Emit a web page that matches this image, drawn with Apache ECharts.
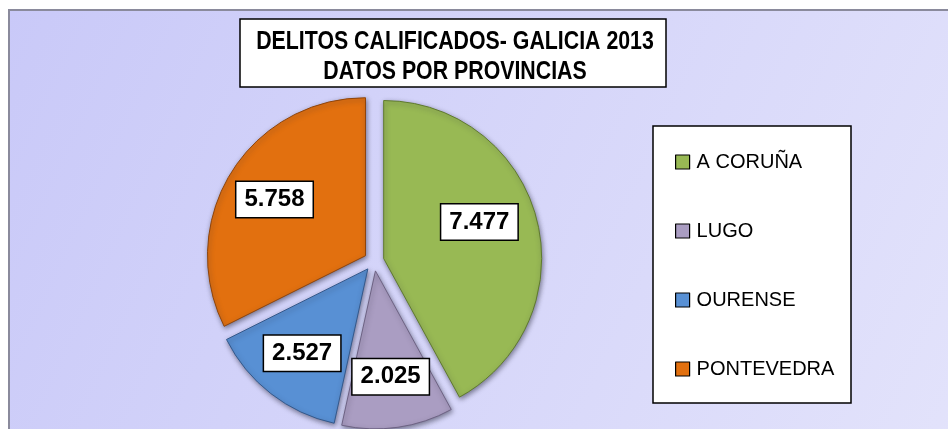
<!DOCTYPE html>
<html>
<head>
<meta charset="utf-8">
<style>
  html, body { margin: 0; padding: 0; background: #fff; }
  #chart { width: 948px; height: 429px; }
</style>
<script src="https://cdn.jsdelivr.net/npm/echarts@6/dist/echarts.min.js"></script>
</head>
<body>
<div id="chart"></div>
<script>
// datos
const provincias = ['A CORUÑA', 'LUGO', 'OURENSE', 'PONTEVEDRA']
const delitos = [7477, 2025, 2527, 5758]
const colores = ['#98B954', '#AA9DC2', '#5890D4', '#E2700F']
const bordes = ['#5F7A2E', '#6E6384', '#34598C', '#8F440A']
const tituloLineas = ['DELITOS CALIFICADOS- GALICIA 2013', 'DATOS POR PROVINCIAS']

// 7477 -> 7.477
function miles(v) {
  return String(v).replace(/\B(?=(\d{3})+(?!\d))/g, '.')
}

const chart = echarts.init(document.getElementById('chart'), null, { renderer: 'canvas' })

const centro = [374, 261]
const radio = 158
const separacion = 10

const datos = provincias.map((name, i) => ({
  name,
  value: delitos[i],
  selected: true,
  itemStyle: { color: colores[i], borderColor: bordes[i] }
}))

chart.setOption({
  animation: false,
  backgroundColor: '#fff',
  graphic: [
    {
      type: 'rect',
      z: -10,
      shape: { x: 9, y: 10, width: 960, height: 440 },
      style: {
        fill: new echarts.graphic.LinearGradient(0, 0, 1, 1, [
          { offset: 0, color: '#C9C9F8' },
          { offset: 1, color: '#E3E3FB' }
        ]),
        stroke: '#8A8A9C',
        lineWidth: 2
      }
    },
    // caja del titulo (no hay Arial Narrow, se comprime el texto)
    {
      type: 'group',
      z: 5,
      children: [
        {
          type: 'rect',
          shape: { x: 240, y: 19, width: 426, height: 68 },
          style: { fill: '#fff', stroke: '#000', lineWidth: 1.5 }
        },
        {
          type: 'text',
          x: 455,
          y: 27,
          scaleX: 0.82,
          style: {
            text: tituloLineas.join('\n'),
            align: 'center',
            verticalAlign: 'top',
            fontFamily: '"Liberation Sans", Arial',
            fontWeight: 'bold',
            fontSize: 26,
            lineHeight: 30,
            fill: '#000'
          }
        }
      ]
    },
    {
      type: 'rect',
      z: 1,
      shape: { x: 653, y: 126, width: 198, height: 277 },
      style: { fill: '#fff', stroke: '#000', lineWidth: 1.5 }
    }
  ],
  legend: {
    orient: 'vertical',
    left: 675,
    top: 152,
    padding: 0,
    itemWidth: 14,
    itemHeight: 14,
    itemGap: 49,
    icon: 'rect',
    selectedMode: false,
    data: provincias,
    itemStyle: { borderColor: '#000', borderWidth: 1.2, shadowBlur: 0, shadowOffsetX: 0, shadowOffsetY: 0 },
    textStyle: {
      fontFamily: '"Liberation Sans", Arial',
      fontSize: 20,
      lineHeight: 20,
      color: '#000',
      padding: [0, 0, 0, 2]
    }
  },
  series: [
    {
      name: 'Delitos',
      type: 'pie',
      center: centro,
      radius: radio,
      startAngle: 90,
      clockwise: true,
      selectedMode: 'multiple',
      selectedOffset: separacion,
      silent: true,
      label: { show: false },
      labelLine: { show: false },
      itemStyle: {
        borderWidth: 1,
        shadowBlur: 5,
        shadowColor: 'rgba(40, 40, 60, 0.55)',
        shadowOffsetX: 1,
        shadowOffsetY: 2
      },
      select: { itemStyle: { borderWidth: 1 } },
      data: datos
    },
    {
      // serie invisible solo para colocar las etiquetas
      name: 'Etiquetas',
      type: 'pie',
      center: centro,
      radius: [50, radio],
      startAngle: 90,
      clockwise: true,
      selectedMode: 'multiple',
      selectedOffset: separacion,
      silent: true,
      legendHoverLink: false,
      itemStyle: { color: 'transparent', borderWidth: 0 },
      select: { itemStyle: { color: 'transparent', borderWidth: 0 } },
      labelLine: { show: false },
      label: {
        show: true,
        position: 'inside',
        formatter: p => miles(p.value),
        fontFamily: '"Liberation Sans", Arial',
        fontWeight: 'bold',
        fontSize: 24,
        color: '#000',
        backgroundColor: '#fff',
        borderColor: '#000',
        borderWidth: 1.5,
        padding: [6, 8, 5, 8]
      },
      // en el original la etiqueta de A CORUÑA queda algo mas arriba
      labelLayout: p => (p.dataIndex === 0 ? { dx: -8, dy: -10 } : {}),
      data: provincias.map((name, i) => ({ name, value: delitos[i], selected: true }))
    }
  ]
})
</script>
</body>
</html>
